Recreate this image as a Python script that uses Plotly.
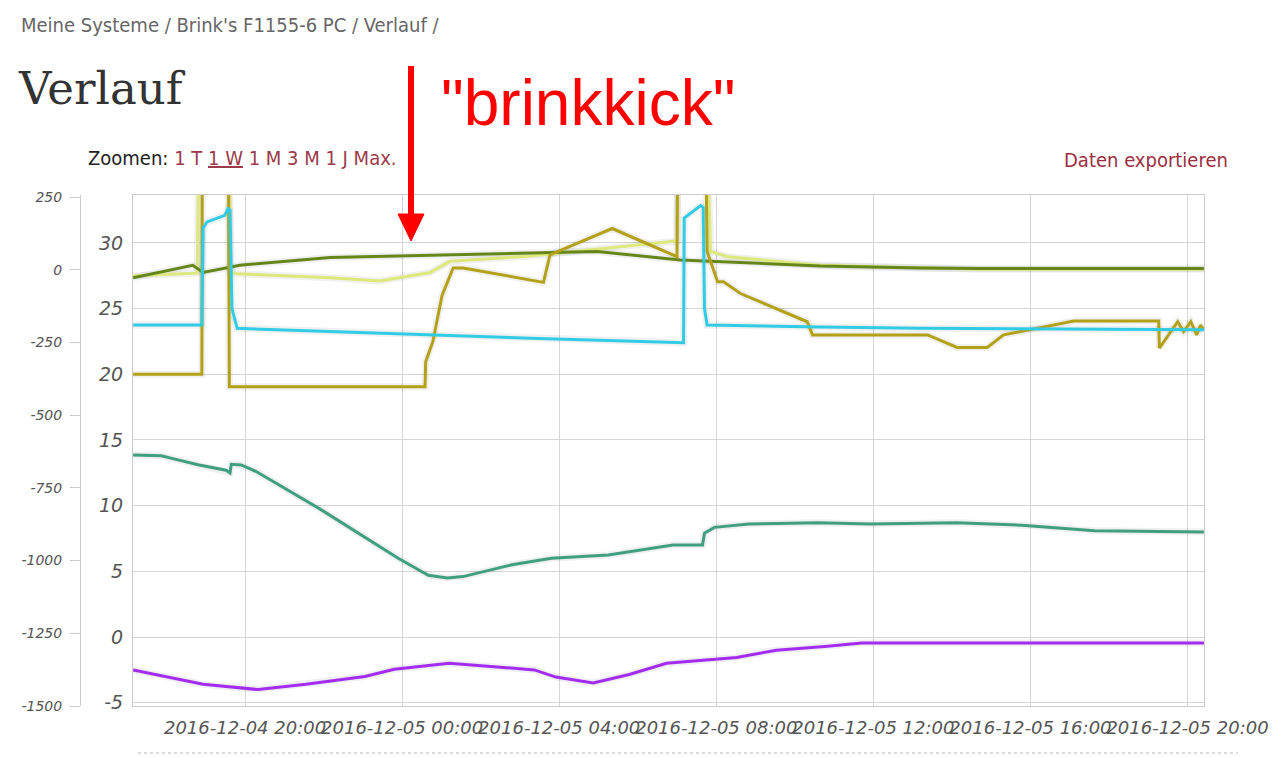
import plotly.graph_objects as go

# The page places the figure 8px in from the top-left corner, so the figure is
# sized and laid out in page coordinates minus that offset.
OFF = 8
W, H = 1280 - OFF, 757 - OFF
ML, MR, MT, MB = 32, 76, 187, 51
PW = W - ML - MR
PH = H - MT - MB


def px(x):
    return (x - OFF - ML) / PW


def py(y):
    return (H - MB - (y - OFF)) / PH


D4 = "2016-12-04 "
D5 = "2016-12-05 "

# ---- data ----
yellow_t = [D4 + "17:09", D4 + "18:47", D4 + "18:51", D4 + "19:36", D4 + "19:37", D4 + "19:48",
            D4 + "22:10", D4 + "23:26", D5 + "00:43", D5 + "01:13", D5 + "03:16", D5 + "07:00",
            D5 + "07:03", D5 + "07:43", D5 + "07:51", D5 + "08:17", D5 + "10:39", D5 + "13:12",
            D5 + "14:44", D5 + "20:25"]
yellow_v = [27.5, 27.7, 45, 45, 27.8, 27.65, 27.35, 27.1, 27.75, 28.6, 29.0, 30.15,
            45, 45, 29.35, 28.95, 28.3, 28.1, 28.0, 28.0]

olive_t = [D4 + "17:09", D4 + "18:40", D4 + "18:56", D4 + "19:52", D4 + "22:10", D5 + "00:43",
           D5 + "03:16", D5 + "04:58", D5 + "07:05", D5 + "08:57", D5 + "10:39", D5 + "13:12",
           D5 + "14:44", D5 + "20:25"]
olive_v = [27.35, 28.3, 27.75, 28.3, 28.9, 29.05, 29.2, 29.35, 28.7, 28.45, 28.25, 28.1, 28.05, 28.05]

gold_t = [D4 + "17:09", D4 + "18:54", D4 + "18:55", D4 + "19:34", D4 + "19:36", D5 + "00:35",
          D5 + "00:36", D5 + "00:47", D5 + "01:01", D5 + "01:18", D5 + "01:33", D5 + "03:16",
          D5 + "03:36", D5 + "03:46", D5 + "05:21", D5 + "07:00", D5 + "07:02", D5 + "07:42",
          D5 + "07:46", D5 + "08:02", D5 + "08:11", D5 + "08:37", D5 + "10:19", D5 + "10:27",
          D5 + "13:23", D5 + "14:08", D5 + "14:54", D5 + "15:19", D5 + "15:55", D5 + "17:06",
          D5 + "19:16", D5 + "19:17", D5 + "19:45", D5 + "19:54", D5 + "20:05", D5 + "20:14",
          D5 + "20:20", D5 + "20:25"]
gold_v = [20.0, 20.0, 45, 45, 19.05, 19.05, 20.95, 22.5, 26.0, 28.1, 28.1, 27.2,
          27.0, 29.1, 31.1, 28.95, 45, 45, 29.35, 27.05, 27.05, 26.15, 24.0, 23.0,
          23.0, 22.05, 22.05, 23.0, 23.35, 24.05, 24.05, 22.0, 24.0, 23.25, 24.0, 23.0,
          23.75, 23.35]

cyan_t = [D4 + "17:09", D4 + "18:54", D4 + "18:56", D4 + "19:02", D4 + "19:29", D4 + "19:34",
          D4 + "19:37", D4 + "19:40", D4 + "19:48", D4 + "22:10", D5 + "03:16", D5 + "07:10",
          D5 + "07:11", D5 + "07:36", D5 + "07:40", D5 + "07:42", D5 + "07:46", D5 + "10:39",
          D5 + "13:12", D5 + "20:25"]
cyan_v = [23.75, 23.75, 31.15, 31.6, 32.1, 32.6, 32.5, 25.0, 23.5, 23.25, 22.75, 22.4,
          31.9, 32.85, 32.7, 25.0, 23.75, 23.6, 23.5, 23.4]

teal_t = [D4 + "17:09", D4 + "17:52", D4 + "18:08", D4 + "18:50", D4 + "19:31", D4 + "19:37",
          D4 + "19:39", D4 + "19:54", D4 + "20:17", D4 + "21:56", D4 + "23:54", D5 + "00:40",
          D5 + "01:09", D5 + "01:33", D5 + "02:48", D5 + "03:48", D5 + "05:15", D5 + "06:54",
          D5 + "07:39", D5 + "07:42", D5 + "07:57", D5 + "08:50", D5 + "10:36", D5 + "11:55",
          D5 + "14:07", D5 + "15:52", D5 + "17:38", D5 + "20:25"]
teal_v = [13.85, 13.8, 13.6, 13.1, 12.7, 12.5, 13.15, 13.1, 12.6, 9.7, 6.0, 4.7,
          4.5, 4.6, 5.5, 6.0, 6.25, 7.0, 7.0, 7.9, 8.35, 8.6, 8.7, 8.6,
          8.7, 8.5, 8.1, 8.0]

purple_t = [D4 + "17:09", D4 + "18:56", D4 + "20:20", D4 + "21:33", D4 + "23:03", D4 + "23:48",
            D5 + "01:12", D5 + "03:22", D5 + "03:55", D5 + "04:52", D5 + "05:47", D5 + "06:44",
            D5 + "08:31", D5 + "09:32", D5 + "10:50", D5 + "11:42", D5 + "20:25"]
purple_v = [-2.5, -3.6, -4.0, -3.6, -3.0, -2.45, -2.0, -2.5, -3.05, -3.5, -2.85, -2.0,
            -1.55, -1.0, -0.7, -0.45, -0.45]

left_ticks = [250, 0, -250, -500, -750, -1000, -1250, -1500]
left_labels = ["250", "0", "-250", "-500", "-750", "-1000", "-1250", "-1500"]
inner_ticks = [30, 25, 20, 15, 10, 5, 0, -5]
inner_labels = ["30", "25", "20", "15", "10", "5", "0", "-5"]

series = [
    (yellow_t, yellow_v, "#dde97a"),
    (olive_t, olive_v, "#66861a"),
    (gold_t, gold_v, "#b3a118"),
    (cyan_t, cyan_v, "#30cce6"),
    (teal_t, teal_v, "#3f9f80"),
    (purple_t, purple_v, "#a32cf0"),
]

fig = go.Figure()
for t, v, c in series:
    fig.add_trace(go.Scatter(x=t, y=v, mode="lines", hoverinfo="skip",
                             line=dict(color="rgba(0,0,0,0.06)", width=7), showlegend=False))
for t, v, c in series:
    fig.add_trace(go.Scatter(x=t, y=v, mode="lines",
                             line=dict(color=c, width=3), showlegend=False))

# invisible trace to attach the outer left axis
fig.add_trace(go.Scatter(x=[purple_t[0]], y=[None], yaxis="y2", mode="lines",
                         showlegend=False, hoverinfo="skip"))

UI_FONT = "DejaVu Sans Condensed, DejaVu Sans"

fig.update_layout(
    width=W, height=H,
    margin=dict(l=ML, r=MR, t=MT, b=MB, autoexpand=False),
    paper_bgcolor="white", plot_bgcolor="white",
    showlegend=False,
    xaxis=dict(
        type="date", domain=[px(133), 1],
        range=["2016-12-04 17:08:48", "2016-12-05 20:25:12"],
        tick0="2016-12-04 20:00", dtick=4 * 3600 * 1000,
        tickformat="%Y-%m-%d %H:%M", tickangle=0,
        showgrid=True, gridcolor="#d6d6d6", gridwidth=1,
        showline=True, linecolor="#cccccc", linewidth=1, mirror=True,
        ticks="outside", ticklen=5, tickcolor="rgba(0,0,0,0)",
        tickfont=dict(family="DejaVu Sans", size=18, color="#555555", style="italic"),
        zeroline=False,
    ),
    yaxis=dict(
        range=[-5.25, 33.65], tickvals=inner_ticks, ticktext=inner_labels,
        showgrid=True, gridcolor="#d6d6d6", gridwidth=1,
        showline=True, linecolor="#cccccc", linewidth=1, mirror=True,
        ticks="", ticklabelstandoff=5,
        tickfont=dict(family="DejaVu Sans", size=19, color="#555555", style="italic"),
        zeroline=False,
    ),
    yaxis2=dict(
        overlaying="y", anchor="free", position=px(80), side="left",
        range=[-1500, 257], tickvals=left_ticks, ticktext=left_labels,
        showgrid=False, zeroline=False,
        showline=True, linecolor="#cccccc", linewidth=1,
        ticks="outside", ticklen=10, tickcolor="#cccccc", ticklabelstandoff=5,
        tickfont=dict(family="DejaVu Sans", size=14, color="#555555", style="italic"),
    ),
)

ann = [
    dict(text="Meine Systeme / Brink's F1155-6 PC / Verlauf /", x=px(19), y=py(25),
         font=dict(family=UI_FONT, size=20, color="#666666"), xanchor="left"),
    dict(text="Verlauf", x=px(16), y=py(89),
         font=dict(family="DejaVu Serif", size=45, color="#333333"), xanchor="left"),
    dict(text="\"brinkkick\"", x=px(439), y=py(103),
         font=dict(family="Liberation Sans", size=64, color="#ff0000"), xanchor="left"),
    dict(text="Zoomen: <span style='color:#9c3a4a'>1 T <span style='text-decoration:underline'>1 W</span>"
              " 1 M 3 M 1 J Max.</span>", x=px(86), y=py(158),
         font=dict(family=UI_FONT, size=20, color="#222222"), xanchor="left"),
    dict(text="Daten exportieren", x=px(1230), y=py(160),
         font=dict(family=UI_FONT, size=20, color="#9c2f3f"), xanchor="right"),
]
for a in ann:
    a.update(xref="paper", yref="paper", yanchor="middle", showarrow=False)
fig.update_layout(annotations=ann)

shapes = [
    dict(type="line", xref="paper", yref="paper", x0=px(411), x1=px(411), y0=py(66), y1=py(220),
         line=dict(color="#ff0000", width=6)),
    dict(type="path", xref="paper", yref="paper",
         path=f"M {px(398)},{py(214)} L {px(424)},{py(214)} L {px(411)},{py(241)} Z",
         fillcolor="#ff0000", line=dict(color="#ff0000", width=1)),
    dict(type="line", xref="paper", yref="paper", x0=px(138), x1=px(1238), y0=py(753), y1=py(753),
         line=dict(color="#bbbbbb", width=1, dash="dot")),
]
fig.update_layout(shapes=shapes)

fig.write_html("out.html")
